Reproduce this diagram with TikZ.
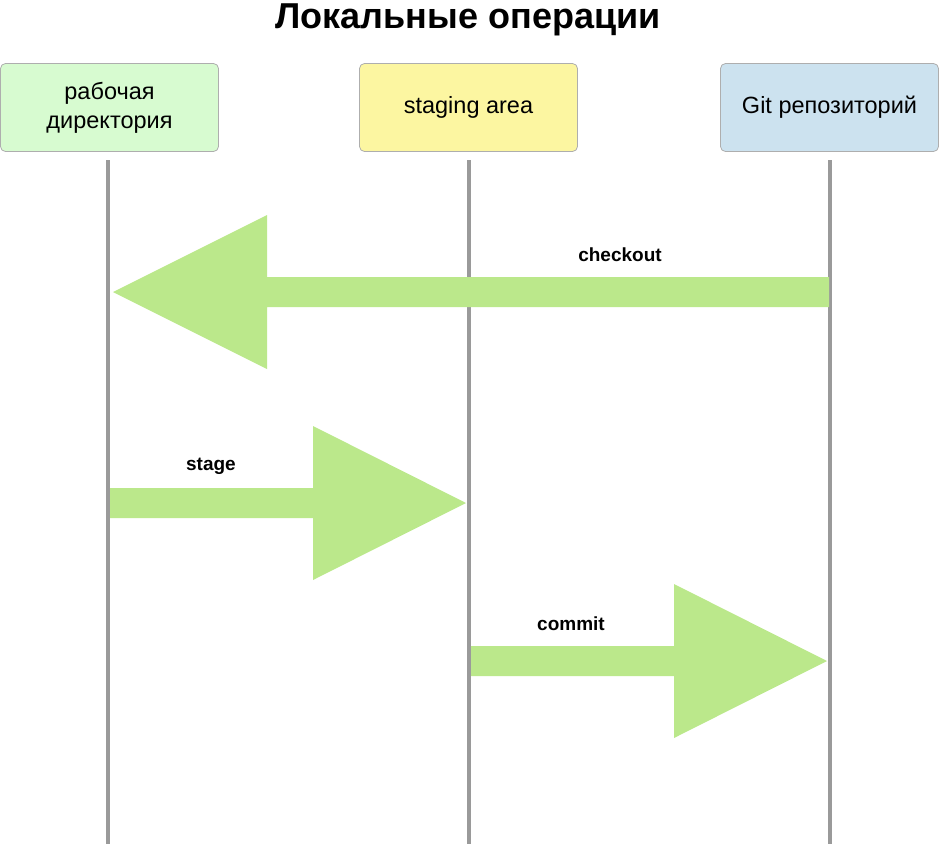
\documentclass[tikz,border=0pt]{standalone}
\usepackage{fontspec}
\setmainfont{Liberation Sans}

\definecolor{boxgreen}{HTML}{D7FBD0}
\definecolor{boxyellow}{HTML}{FCF6A1}
\definecolor{boxblue}{HTML}{CCE2EF}
\definecolor{arrowgreen}{HTML}{BBE88B}
\definecolor{lifegray}{HTML}{9A9A9A}

\begin{document}
\begin{tikzpicture}[x=1pt, y=-1pt,
	actor/.style={draw=lifegray!80, line width=0.8pt, rounded corners=5pt, minimum width=218pt, minimum height=88pt, align=center, font=\fontsize{23.5}{29}\selectfont},
	lifeline/.style={lifegray, line width=4pt},
	oplabel/.style={font=\fontsize{19}{22}\selectfont\bfseries}]

	\useasboundingbox (0,0) rectangle (940,844);

	\node[font=\fontsize{36}{42}\selectfont\bfseries, anchor=base] (title) at (468,28) {Локальные операции};

	\node[actor, fill=boxgreen] (wd) at (109.5,107.5) {рабочая\\директория};
	\node[actor, fill=boxyellow] (sa) at (468.5,107.5) {staging area};
	\node[actor, fill=boxblue] (repo) at (829.5,107.5) {Git репозиторий};

	\coordinate (wdend) at (108,844);
	\coordinate (saend) at (469,844);
	\coordinate (repoend) at (830,844);
	\draw[lifeline] (108,160) -- (wdend);
	\draw[lifeline] (469,160) -- (saend);
	\draw[lifeline] (830,160) -- (repoend);

	% checkout
	\fill[arrowgreen] (829,277) -- (267,277) -- (267,215) -- (113,292) -- (267,369) -- (267,307) -- (829,307) -- cycle;
	\node[oplabel] (co) at (620,255) {checkout};

	% stage
	\fill[arrowgreen] (110,488) -- (313,488) -- (313,426) -- (466,503) -- (313,580) -- (313,518) -- (110,518) -- cycle;
	\node[oplabel] (st) at (211,466) {stage};

	% commit
	\fill[arrowgreen] (471,646) -- (674,646) -- (674,584) -- (827,661) -- (674,738) -- (674,676) -- (471,676) -- cycle;
	\node[oplabel] (cm) at (571,624) {commit};

\end{tikzpicture}
\end{document}
